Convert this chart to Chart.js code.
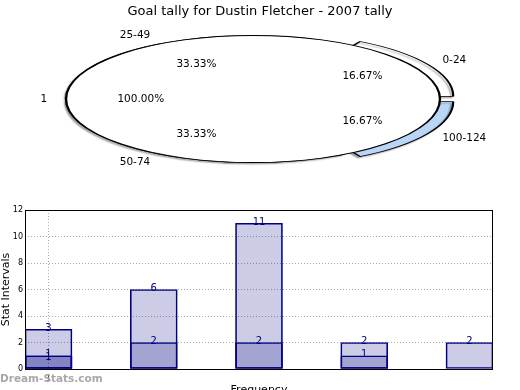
<!DOCTYPE html>
<html>
<head>
<meta charset="utf-8">
<title>Goal tally for Dustin Fletcher - 2007 tally</title>
<script src="https://cdn.jsdelivr.net/npm/chart.js@4.4.1/dist/chart.umd.min.js"></script>
<style>
  html, body { margin: 0; padding: 0; background: #fff; overflow: hidden; }
  #wrap { position: relative; width: 520px; height: 390px; overflow: hidden; }
  canvas { position: absolute; left: 0; top: 0; }
  #title { position: absolute; left: 0; top: 3px; width: 520px; text-align: center;
           font: 13px "DejaVu Sans", sans-serif; line-height: 15px; color: #000; }
  #mark { position: absolute; left: 0; top: 372px; font: bold 10.5px "DejaVu Sans", sans-serif;
          color: #a8a8a8; }
</style>
</head>
<body>
<div id="wrap">
  <canvas id="pieBase" width="520" height="390"></canvas>
  <canvas id="pieTop" width="520" height="390"></canvas>
  <canvas id="bars" width="520" height="400"></canvas>
  <div id="title">Goal tally for Dustin Fletcher - 2007 tally</div>
  <div id="mark">Dream-Stats.com</div>
</div>
<script>
// pie: goal ranges (matplotlib order, counter-clockwise from 3 o'clock)
const tallyBins = ['0-24', '25-49', '50-74', '100-124'];
const tallyCounts = [1, 2, 2, 1];
// the single slice lying over it
const seasonLabels = ['1'];
const seasonCounts = [1];

// bars
const barSlots = [0, 1, 2, 3, 4];
const tallyA = [3, 6, 11, 2, 2];
const tallyB = [1, 2, 2, 1, null];
const tallyC = [1, null, null, null, null];
const yTicks = [0, 2, 4, 6, 8, 10, 12];
const xTickSlots = [0];
const xTickLabels = ['1'];

// styles
const tallyColors = ['#ffffff', '#ffffff', '#b9d6f9', '#b9d6f9'];
// chart.js moves a slice by offset/4
const tallyExplode = [21, 3, 3, 21];
const PIE_RADIUS = 63.5;
const PIE_STRETCH = 187 / 63.5;
const LABEL_Y_BOOST = 1.05;
const NAVY = '#000080';

Chart.defaults.font.family = '"DejaVu Sans", sans-serif';
Chart.defaults.color = '#000';

// pie is drawn round, then stretched sideways into an ellipse
const squash = {
    id: 'squash',
    beforeDatasetsDraw(chart, args, opts) {
        const arc = chart.getDatasetMeta(0).data[0];
        const ctx = chart.ctx;
        ctx.save();
        ctx.translate(arc.x, arc.y);
        ctx.scale(PIE_STRETCH, 1);
        ctx.translate(-arc.x, -arc.y);
        if (opts.shadow) {
            ctx.shadowColor = 'rgba(0,0,0,0.3)';
            ctx.shadowOffsetX = -2;
            ctx.shadowOffsetY = 1.5;
            ctx.shadowBlur = 1.5;
        }
    },
    afterDatasetsDraw(chart, args, opts) {
        const ctx = chart.ctx;
        if (opts.rim) {
            // outline of a full slice, without the radial seam
            const arc = chart.getDatasetMeta(0).data[0];
            ctx.beginPath();
            ctx.arc(arc.x, arc.y, arc.outerRadius, 0, Math.PI * 2);
            ctx.lineWidth = 0.8;
            ctx.strokeStyle = '#000';
            ctx.stroke();
        }
        ctx.restore();
    }
};

function drawPieLabels(ctx, chart) {
    const meta = chart.getDatasetMeta(0);
    const values = chart.data.datasets[0].data;
    const total = values.reduce((a, b) => a + b, 0);
    meta.data.forEach((arc, i) => {
        const mid = (arc.startAngle + arc.endAngle) / 2;
        const c = Math.cos(mid), s = Math.sin(mid);
        const off = (arc.options.offset || 0) / 4;
        const cx = arc.x + c * off * PIE_STRETCH;
        const cy = arc.y + s * off;
        const r = arc.outerRadius;
        ctx.textAlign = c > 0.01 ? 'left' : (c < -0.01 ? 'right' : 'center');
        ctx.fillText(chart.data.labels[i], cx + c * r * 1.1 * PIE_STRETCH, cy + s * r * 1.1 * LABEL_Y_BOOST);
        ctx.textAlign = 'center';
        const pct = (values[i] / total * 100).toFixed(2) + '%';
        ctx.fillText(pct, cx + c * r * 0.6 * PIE_STRETCH, cy + s * r * 0.6 * LABEL_Y_BOOST);
    });
}

const pieLayout = { padding: { left: 0, top: 0, right: 14, bottom: 192 } };

// Chart.js goes clockwise, so reverse to keep matplotlib's layout
const basePie = new Chart(document.getElementById('pieBase'), {
    type: 'pie',
    data: {
        labels: tallyBins.slice().reverse(),
        datasets: [{
            data: tallyCounts.slice().reverse(),
            backgroundColor: tallyColors.slice().reverse(),
            offset: tallyExplode.slice().reverse(),
            borderColor: '#000',
            borderWidth: 0.75,
            radius: PIE_RADIUS - 0.75,
            rotation: 90
        }]
    },
    options: {
        responsive: false,
        animation: false,
        events: [],
        layout: pieLayout,
        plugins: { legend: { display: false }, tooltip: { enabled: false }, squash: { shadow: true } }
    },
    plugins: [squash]
});

// overlay writes its own labels and the base pie's, so text stays on top
const pieText = {
    id: 'pieText',
    afterDraw(chart) {
        const ctx = chart.ctx;
        ctx.save();
        ctx.font = '10.5px "DejaVu Sans"';
        ctx.fillStyle = '#000';
        ctx.textBaseline = 'middle';
        drawPieLabels(ctx, basePie);
        drawPieLabels(ctx, chart);
        ctx.restore();
    }
};

new Chart(document.getElementById('pieTop'), {
    type: 'pie',
    data: {
        labels: seasonLabels,
        datasets: [{
            data: seasonCounts,
            backgroundColor: '#ffffff',
            borderWidth: 0,
            radius: PIE_RADIUS,
            rotation: 90
        }]
    },
    options: {
        responsive: false,
        animation: false,
        events: [],
        layout: pieLayout,
        plugins: { legend: { display: false }, tooltip: { enabled: false }, squash: { rim: true } }
    },
    plugins: [squash, pieText]
});

// bar values printed on top + frame round the plot
const barText = {
    id: 'barText',
    afterDatasetsDraw(chart) {
        const ctx = chart.ctx;
        const a = chart.chartArea;
        ctx.save();
        ctx.strokeStyle = '#000';
        ctx.lineWidth = 1;
        ctx.strokeRect(a.left + 0.5, a.top + 0.5, a.right - a.left - 1, a.bottom - a.top);
        ctx.font = '10px "DejaVu Sans"';
        ctx.fillStyle = NAVY;
        ctx.textAlign = 'center';
        ctx.textBaseline = 'alphabetic';
        chart.data.datasets.forEach((ds, di) => {
            chart.getDatasetMeta(di).data.forEach((bar, i) => {
                ctx.fillText(String(ds.data[i].y), bar.x, bar.y + 1.5 + (di === 2 ? 3 : 0));
            });
        });
        ctx.restore();
    }
};

const toPoints = vals => barSlots
    .map((x, i) => ({ x: x, y: vals[i] }))
    .filter(p => p.y !== null);

new Chart(document.getElementById('bars'), {
    type: 'bar',
    data: {
        datasets: [tallyA, tallyB, tallyC].map(vals => ({
            data: toPoints(vals),
            backgroundColor: 'rgba(0,0,128,0.2)',
            borderColor: NAVY,
            borderWidth: 1,
            borderSkipped: false,
            grouped: false,
            barThickness: 47
        }))
    },
    options: {
        responsive: false,
        animation: false,
        events: [],
        layout: { padding: { left: 0, top: 210, right: 27, bottom: 0 } },
        plugins: { legend: { display: false }, tooltip: { enabled: false } },
        scales: {
            x: {
                type: 'linear',
                offset: false,
                min: -0.2233,
                max: 4.2233,
                afterBuildTicks: s => { s.ticks = xTickSlots.map(v => ({ value: v })); },
                afterFit: s => { s.height = 31; },
                ticks: {
                    callback: (v, i) => xTickLabels[i],
                    font: { size: 8 },
                    padding: 5,
                    maxRotation: 0,
                    autoSkip: false
                },
                grid: { color: '#a8a8a8', drawTicks: false, offset: false },
                border: { display: false, dash: [1, 2] },
                title: { display: true, text: 'Frequency', font: { size: 11 }, padding: { top: 0, bottom: 3 } }
            },
            y: {
                min: 0,
                max: 12,
                afterBuildTicks: s => { s.ticks = yTicks.map(v => ({ value: v })); },
                afterFit: s => { s.width = 25; },
                ticks: { font: { size: 8 }, padding: 2 },
                grid: { color: '#a8a8a8', drawTicks: false },
                border: { display: false, dash: [1, 2] },
                title: { display: true, text: 'Stat Intervals', font: { size: 11 }, padding: 0 }
            }
        }
    },
    plugins: [barText]
});
</script>
</body>
</html>
